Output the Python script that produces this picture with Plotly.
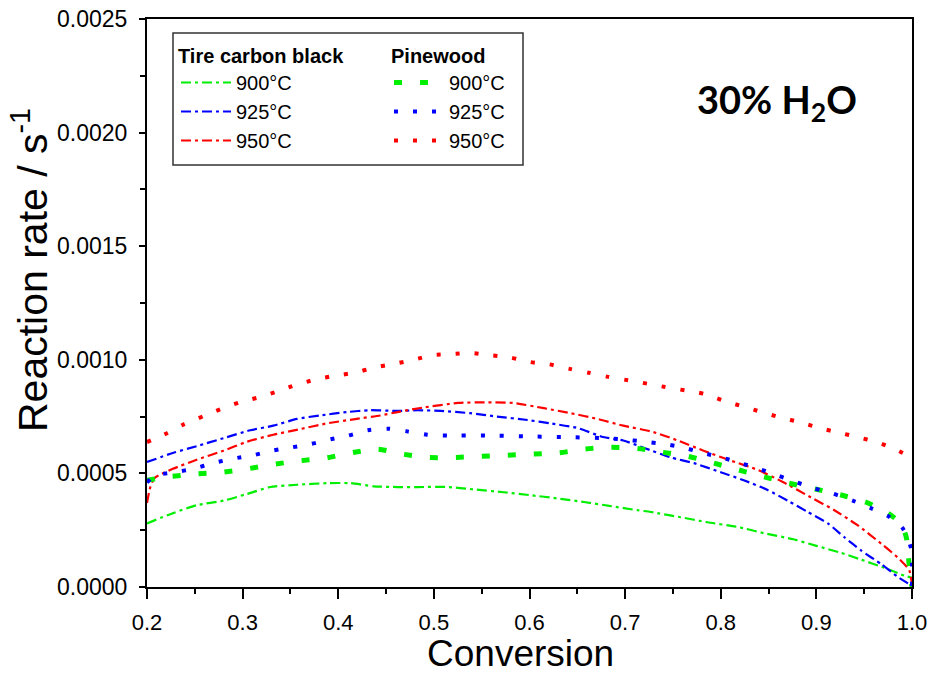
import plotly.graph_objects as go

# ---- data ----
tire900_x = [0.2, 0.227, 0.252, 0.28, 0.305, 0.329, 0.357, 0.388, 0.413, 0.437, 0.462, 0.483, 0.514, 0.541,
             0.573, 0.601, 0.629, 0.657, 0.685, 0.713, 0.727, 0.758, 0.786, 0.818, 0.845, 0.876, 0.901, 0.926,
             0.947, 0.971, 0.992, 1.0]
tire900_y = [0.00028, 0.000325, 0.00036, 0.00038, 0.00041, 0.00044, 0.00045, 0.000457, 0.000457, 0.000443,
             0.00044, 0.00044, 0.00044, 0.00043, 0.000417, 0.000404, 0.00039, 0.000374, 0.000356, 0.000338,
             0.00033, 0.000307, 0.000285, 0.000264, 0.000237, 0.00021, 0.00018, 0.00015, 0.00012, 0.000085,
             0.00005, 0.00004]

tire925_x = [0.2, 0.227, 0.252, 0.28, 0.308, 0.332, 0.357, 0.381, 0.409, 0.433, 0.462, 0.483, 0.507, 0.538,
             0.566, 0.598, 0.622, 0.65, 0.677, 0.698, 0.72, 0.748, 0.772, 0.8, 0.824, 0.849, 0.87, 0.891, 0.912,
             0.929, 0.947, 0.968, 0.985, 1.0]
tire925_y = [0.00055, 0.00059, 0.00062, 0.000655, 0.00069, 0.00071, 0.00074, 0.000755, 0.00077, 0.000778,
             0.000775, 0.000778, 0.000775, 0.000765, 0.00075, 0.000735, 0.00072, 0.0007, 0.00066, 0.000645,
             0.000612, 0.00057, 0.000545, 0.000505, 0.00047, 0.000427, 0.00038, 0.00033, 0.00028, 0.00022,
             0.00016, 0.0001, 0.000045, 0.000005]

tire950_x = [0.2, 0.2035, 0.208, 0.227, 0.252, 0.28, 0.305, 0.332, 0.36, 0.388, 0.416, 0.444, 0.462, 0.489,
             0.525, 0.556, 0.583, 0.615, 0.643, 0.671, 0.698, 0.727, 0.755, 0.782, 0.81, 0.839, 0.866, 0.894,
             0.918, 0.943, 0.968, 0.985, 0.997, 1.0]
tire950_y = [0.00037, 0.00044, 0.00048, 0.00052, 0.00056, 0.0006, 0.00064, 0.00067, 0.000695, 0.00072,
             0.000738, 0.000755, 0.00077, 0.00079, 0.00081, 0.000813, 0.00081, 0.000787, 0.000765, 0.00074,
             0.00071, 0.000685, 0.000645, 0.0006, 0.000557, 0.000515, 0.00046, 0.000395, 0.00034, 0.000272,
             0.00019, 0.00013, 0.000075, 0.00001]

pine900_x = [0.2, 0.222, 0.25, 0.278, 0.305, 0.332, 0.359, 0.386, 0.413, 0.441, 0.467, 0.494, 0.52, 0.549,
             0.576, 0.603, 0.63, 0.658, 0.685, 0.713, 0.739, 0.766, 0.793, 0.819, 0.845, 0.871, 0.9, 0.926,
             0.952, 0.975, 0.988, 0.994, 0.997, 1.0]
pine900_y = [0.00047, 0.000485, 0.000497, 0.000505, 0.00052, 0.00054, 0.000555, 0.000567, 0.00059, 0.000607,
             0.000585, 0.00057, 0.00057, 0.000575, 0.00058, 0.000585, 0.00059, 0.000607, 0.000615, 0.00061,
             0.000593, 0.000575, 0.000545, 0.000515, 0.000485, 0.000457, 0.00043, 0.000405, 0.000373,
             0.000325, 0.00028, 0.00022, 0.0001, 0.0]

pine925_x = [0.2, 0.208, 0.229, 0.248, 0.269, 0.29, 0.311, 0.331, 0.352, 0.372, 0.392, 0.411, 0.431, 0.452,
             0.472, 0.493, 0.514, 0.556, 0.596, 0.637, 0.678, 0.698, 0.719, 0.74, 0.76, 0.781, 0.801, 0.821,
             0.84, 0.86, 0.88, 0.897, 0.918, 0.938, 0.957, 0.975, 0.99, 0.999, 1.0]
pine925_y = [0.00046, 0.00049, 0.000505, 0.00052, 0.000545, 0.000565, 0.00058, 0.0006, 0.000615, 0.00063,
             0.00065, 0.000667, 0.00069, 0.000697, 0.000685, 0.00067, 0.000667, 0.000667, 0.000663, 0.00066,
             0.000655, 0.00065, 0.00064, 0.00063, 0.000615, 0.00059, 0.00057, 0.000545, 0.00052, 0.00049,
             0.00046, 0.000435, 0.00041, 0.00038, 0.000347, 0.000312, 0.00026, 0.00017, 0.0]

pine950_x = [0.2, 0.221, 0.239, 0.259, 0.277, 0.297, 0.317, 0.336, 0.356, 0.376, 0.397, 0.417, 0.437, 0.458,
             0.479, 0.498, 0.519, 0.539, 0.56, 0.58, 0.601, 0.621, 0.642, 0.662, 0.682, 0.703, 0.723, 0.742,
             0.763, 0.783, 0.803, 0.823, 0.843, 0.863, 0.883, 0.903, 0.923, 0.943, 0.963, 0.982, 1.0]
pine950_y = [0.000638, 0.000677, 0.000717, 0.000752, 0.000783, 0.000813, 0.000835, 0.00086, 0.00089,
             0.000913, 0.00093, 0.000943, 0.000965, 0.000982, 0.001, 0.00102, 0.001025, 0.00103, 0.00102,
             0.00101, 0.00099, 0.00098, 0.00096, 0.000943, 0.000925, 0.00091, 0.000895, 0.00088, 0.000865,
             0.00085, 0.00082, 0.000795, 0.00077, 0.000745, 0.000725, 0.0007, 0.00068, 0.00066, 0.000638,
             0.000607, 0.00057]

temps = ["900°C", "925°C", "950°C"]
colors = ["#00ee00", "#0000ff", "#ff0000"]

tire = [(tire900_x, tire900_y), (tire925_x, tire925_y), (tire950_x, tire950_y)]
pine = [(pine900_x, pine900_y), (pine925_x, pine925_y), (pine950_x, pine950_y)]

fig = go.Figure()

for (x, y), name, c in zip(tire, temps, colors):
    fig.add_trace(go.Scatter(x=x, y=y, mode="lines", name=name, legend="legend",
                             line=dict(color=c, width=2.2, dash="10px,4px,3px,4px", shape="spline", smoothing=0.6)))

pine_dash = ["8px,18px", "4px,15px", "4px,15px"]
pine_w = [5, 4, 4]
for (x, y), name, c, d, w in zip(pine, temps, colors, pine_dash, pine_w):
    fig.add_trace(go.Scatter(x=x, y=y, mode="lines", name=name, legend="legend2",
                             line=dict(color=c, width=w, dash=d, shape="spline", smoothing=0.6)))

W, H = 929, 675
L, R, T, B = 147, 17, 19, 88
pw, ph = W - L - R, H - T - B

def px(xp):
    return (xp - L) / pw

def py(yp):
    return (H - B - yp) / ph

font_main = "Liberation Sans, Arial, sans-serif"

fig.update_layout(
    width=W, height=H,
    margin=dict(l=L, r=R, t=T, b=B, autoexpand=False),
    paper_bgcolor="white", plot_bgcolor="white",
    font=dict(family=font_main, color="black"),
    showlegend=True,
    legend=dict(x=px(176), y=py(37), xanchor="left", yanchor="top",
                bgcolor="rgba(0,0,0,0)", borderwidth=0,
                title=dict(text="<b>Tire carbon black</b>", font=dict(size=20)),
                font=dict(size=20), itemwidth=50),
    legend2=dict(x=px(389), y=py(37), xanchor="left", yanchor="top",
                 bgcolor="rgba(0,0,0,0)", borderwidth=0,
                 title=dict(text="<b>Pinewood</b>", font=dict(size=20)),
                 font=dict(size=20), itemwidth=50),
    xaxis=dict(range=[0.2, 1.0], dtick=0.1, tick0=0.2, tickformat=".1f", automargin=False,
               showline=True, linecolor="black", linewidth=2, mirror=True,
               ticks="outside", ticklen=10, tickwidth=2, tickcolor="black",
               minor=dict(dtick=0.05, ticks="outside", ticklen=5, tickwidth=2, tickcolor="black"),
               showgrid=False, zeroline=False, tickfont=dict(size=22), ticklabelstandoff=5),
    yaxis=dict(range=[0, 0.0025], dtick=0.0005, tickformat=".4f", automargin=False,
               showline=True, linecolor="black", linewidth=2, mirror=True,
               ticks="outside", ticklen=6, tickwidth=2, tickcolor="black",
               minor=dict(dtick=0.00025, ticks="outside", ticklen=5, tickwidth=2, tickcolor="black"),
               showgrid=False, zeroline=False, tickfont=dict(size=23), ticklabelstandoff=7),
    shapes=[dict(type="rect", xref="paper", yref="paper",
                 x0=px(173), x1=px(523), y0=py(165), y1=py(33),
                 line=dict(color="#333333", width=1.5), fillcolor="rgba(0,0,0,0)")],
    annotations=[
        dict(text="Conversion", xref="paper", yref="paper", x=px(520), y=py(653),
             xanchor="center", yanchor="middle", showarrow=False, font=dict(size=37)),
        dict(text="Reaction rate / s<sup>-1</sup>", xref="paper", yref="paper", x=px(30), y=py(270),
             xanchor="center", yanchor="middle", showarrow=False, textangle=-90, font=dict(size=41)),
        dict(text="<b>30% H<sub>2</sub>O</b>", xref="paper", yref="paper", x=px(777), y=py(102),
             xanchor="center", yanchor="middle", showarrow=False,
             font=dict(size=38, family="Lato, Open Sans, sans-serif")),
    ],
)

fig.write_html("out.html")
